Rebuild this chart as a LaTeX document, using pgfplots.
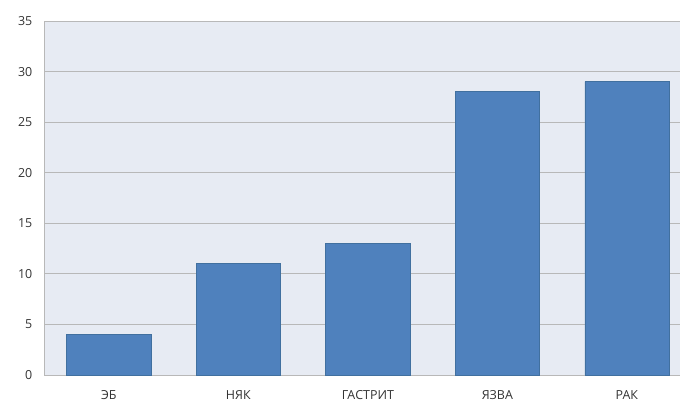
\documentclass[border=0pt]{standalone}
\usepackage{pgfplots}
\pgfplotsset{compat=1.18}
\usepackage{fontspec}
\setmainfont{Open Sans}
\definecolor{barfill}{HTML}{4F81BD}
\definecolor{baredge}{HTML}{41709F}
\definecolor{bgc}{HTML}{E7EBF3}
\definecolor{gridc}{HTML}{B8B8B8}
\begin{document}
\begin{tikzpicture}
\begin{axis}[
  scale only axis,
  width=636bp, height=354bp,
  xmin=-0.5, xmax=4.41,
  ymin=0, ymax=35,
  ytick={0,5,...,35},
  xtick={0,1,2,3,4},
  xticklabels={ЭБ,НЯК,ГАСТРИТ,ЯЗВА,РАК},
  axis background/.style={fill=bgc},
  ymajorgrids,
  grid style={gridc, line width=1pt},
  axis line style={gridc, line width=1pt},
  axis x line=bottom, axis y line=left,
  x axis line style={-}, y axis line style={-},
  tick style={draw=none},
  tick label style={font=\fontsize{12.5}{14}\selectfont, text=black!80},
  xticklabel style={yshift=-10bp},
  yticklabel style={xshift=-6bp},
  /pgf/number format/assume math mode=true,
  bar width=0.65,
  clip=false,
]
\addplot[ybar, fill=barfill, draw=baredge, line width=0.6pt] coordinates {
  (0,4) (1,11) (2,13) (3,28) (4,29)
};
\end{axis}
\pgfresetboundingbox
\path[use as bounding box] (-44bp,-31bp) rectangle (636bp,375bp);
\end{tikzpicture}
\end{document}
